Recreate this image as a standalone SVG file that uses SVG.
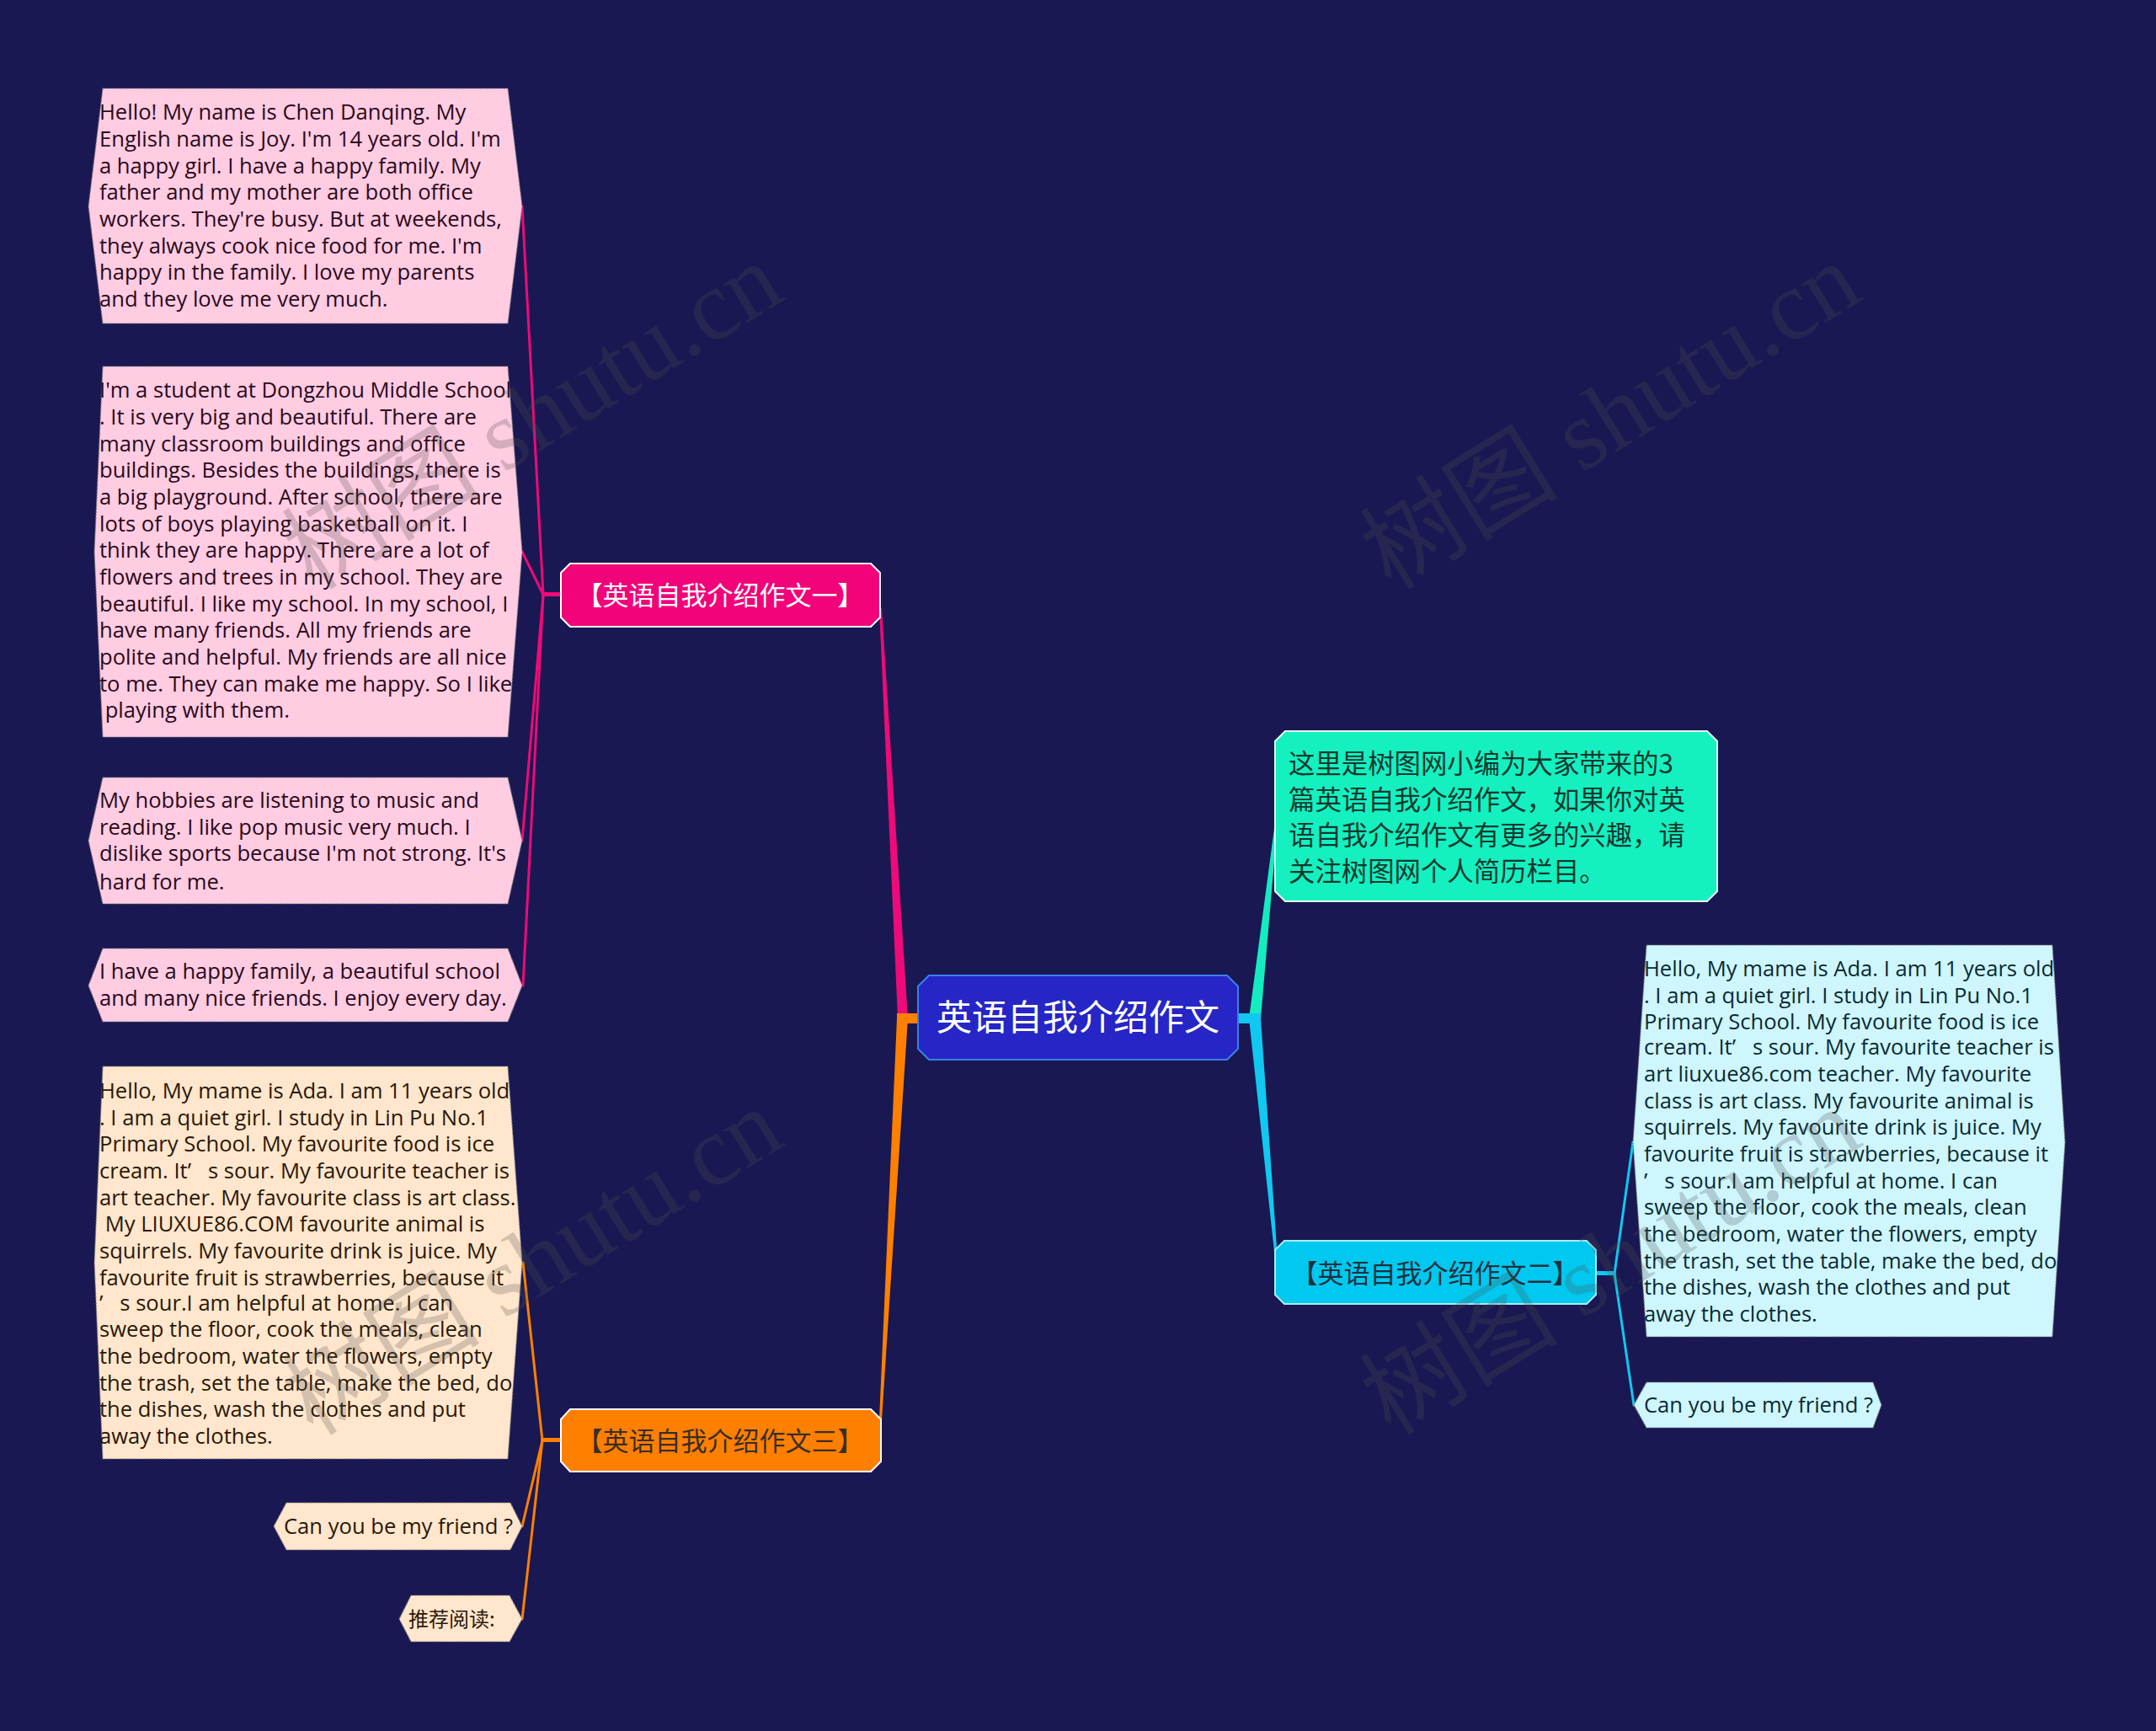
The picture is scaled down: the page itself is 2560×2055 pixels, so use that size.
<svg xmlns="http://www.w3.org/2000/svg" width="2560" height="2055" viewBox="0 0 2560 2055">
<style>
.lt{font-family:"Open Sans","Noto Sans",sans-serif;font-size:25.6px}
.pk{fill:#2a0a1a}
.pc{fill:#2a1808}
.cy{fill:#0a2a35}
.cj{font-family:"Noto Sans CJK SC","Noto Sans",sans-serif}
.leafP{fill:#ffcce2;stroke:#777;stroke-width:1.2;stroke-dasharray:2 1.5}
.leafO{fill:#ffe6cc;stroke:#777;stroke-width:1.2;stroke-dasharray:2 1.5}
.leafC{fill:#cef6fc;stroke:#777;stroke-width:1.2;stroke-dasharray:2 1.5}
.wm{font-family:"Liberation Serif","Noto Sans CJK SC",serif;font-size:118px;fill:#505050;fill-opacity:0.25}
</style>
<rect x="0" y="0" width="2560" height="2055" fill="#191852"/>

<g id="connectors">
  <polygon points="1066,1209 1078,1209 1047,722 1044,722" fill="#ee0a78"/>
  <polygon points="1065,1209 1078,1209 1047,1686 1044,1686" fill="#ff8000"/>
  <rect x="1065" y="1203" width="27" height="12" fill="#ff8000"/>
  <polygon points="1483,1209 1497,1209 1517,976 1514,976" fill="#14ecc0"/>
  <polygon points="1483,1209 1497,1209 1517,1495 1514,1495" fill="#10c8f0"/>
  <rect x="1468" y="1203" width="29" height="12" fill="#10c8f0"/>
  <rect x="643" y="703" width="25" height="5" fill="#ee0a78"/>
  <g stroke="#ee0a78" stroke-width="3" fill="none" stroke-linecap="round">
    <path d="M645,706 L620,245"/>
    <path d="M645,706 L620,655"/>
    <path d="M645,706 L620,998"/>
    <path d="M645,706 L621,1170"/>
  </g>
  <rect x="642" y="1707" width="26" height="5" fill="#ff8000"/>
  <g stroke="#ff8000" stroke-width="3" fill="none" stroke-linecap="round">
    <path d="M644,1710 L621,1499"/>
    <path d="M644,1710 L620,1812"/>
    <path d="M644,1710 L620,1922"/>
  </g>
  <rect x="1893" y="1509" width="26" height="5" fill="#10c8f0"/>
  <g stroke="#10c8f0" stroke-width="3" fill="none" stroke-linecap="round">
    <path d="M1917,1512 L1939,1356"/>
    <path d="M1917,1512 L1940,1668"/>
  </g>
</g>

<g id="root">
  <polygon points="1103,1158 1457,1158 1470,1171 1470,1245 1457,1258 1103,1258 1090,1245 1090,1171" fill="#2626c6" stroke="#3c80ea" stroke-width="2"/>
  <text class="cj" x="1280" y="1223" text-anchor="middle" font-size="42" fill="#ffffff">英语自我介绍作文</text>
</g>

<g id="branch1">
  <polygon points="677,669 1034,669 1045,680 1045,733 1034,744 677,744 666,733 666,680" fill="#f2037a" stroke="#ffffff" stroke-width="2"/>
  <text class="cj" x="855" y="718" text-anchor="middle" font-size="31" fill="#ffffff">【英语自我介绍作文一】</text>
</g>

<g id="branch3">
  <polygon points="677,1673 1034,1673 1046,1685 1046,1735 1034,1747 677,1747 666,1735 666,1685" fill="#ff7f00" stroke="#ffffff" stroke-width="2"/>
  <text class="cj" x="855" y="1722" text-anchor="middle" font-size="31" fill="#3a2e26">【英语自我介绍作文三】</text>
</g>

<g id="branch2">
  <polygon points="1525,1473 1884,1473 1895,1484 1895,1537 1884,1548 1525,1548 1514,1537 1514,1484" fill="#00c8ee" stroke="#a8ecf8" stroke-width="2"/>
  <text class="cj" x="1704" y="1523" text-anchor="middle" font-size="31" fill="#1e3040">【英语自我介绍作文二】</text>
</g>

<g id="intro">
  <polygon points="1526,868 2027,868 2039,880 2039,1058 2027,1070 1526,1070 1514,1058 1514,880" fill="#14f0c0" stroke="#e8fff8" stroke-width="2"/>
  <g class="cj" font-size="31.4" fill="#10382e">
    <text x="1530" y="918">这里是树图网小编为大家带来的3</text>
    <text x="1530" y="961">篇英语自我介绍作文，如果你对英</text>
    <text x="1530" y="1003">语自我介绍作文有更多的兴趣，请</text>
    <text x="1530" y="1046">关注树图网个人简历栏目。</text>
  </g>
</g>

<g id="leaf1">
  <polygon class="leafP" points="122,105 603,105 620,245 603,384 122,384 105,245"/>
  <g class="lt pk">
    <text x="118" y="142">Hello! My name is Chen Danqing. My</text>
    <text x="118" y="174">English name is Joy. I'm 14 years old. I'm</text>
    <text x="118" y="206">a happy girl. I have a happy family. My</text>
    <text x="118" y="237">father and my mother are both office</text>
    <text x="118" y="269">workers. They're busy. But at weekends,</text>
    <text x="118" y="301">they always cook nice food for me. I'm</text>
    <text x="118" y="332">happy in the family. I love my parents</text>
    <text x="118" y="364">and they love me very much.</text>
  </g>
</g>

<g id="leaf2">
  <polygon class="leafP" points="122,435 603,435 620,655 603,875 122,875 112,655"/>
  <g class="lt pk">
    <text x="118" y="472">I'm a student at Dongzhou Middle School</text>
    <text x="118" y="504">. It is very big and beautiful. There are</text>
    <text x="118" y="536">many classroom buildings and office</text>
    <text x="118" y="567">buildings. Besides the buildings, there is</text>
    <text x="118" y="599">a big playground. After school, there are</text>
    <text x="118" y="631">lots of boys playing basketball on it. I</text>
    <text x="118" y="662">think they are happy. There are a lot of</text>
    <text x="118" y="694">flowers and trees in my school. They are</text>
    <text x="118" y="726">beautiful. I like my school. In my school, I</text>
    <text x="118" y="757">have many friends. All my friends are</text>
    <text x="118" y="789">polite and helpful. My friends are all nice</text>
    <text x="118" y="821">to me. They can make me happy. So I like</text>
    <text x="118" y="852">&#160;playing with them.</text>
  </g>
</g>

<g id="leaf3">
  <polygon class="leafP" points="122,923 603,923 620,998 603,1073 122,1073 105,998"/>
  <g class="lt pk">
    <text x="118" y="959">My hobbies are listening to music and</text>
    <text x="118" y="991">reading. I like pop music very much. I</text>
    <text x="118" y="1022">dislike sports because I'm not strong. It's</text>
    <text x="118" y="1056">hard for me.</text>
  </g>
</g>

<g id="leaf4">
  <polygon class="leafP" points="122,1126 603,1126 620,1170 603,1213 122,1213 105,1170"/>
  <g class="lt pk">
    <text x="118" y="1162">I have a happy family, a beautiful school</text>
    <text x="118" y="1194">and many nice friends. I enjoy every day.</text>
  </g>
</g>

<g id="leaf5">
  <polygon class="leafO" points="122,1266 603,1266 620,1499 603,1732 122,1732 112,1499"/>
  <g class="lt pc">
    <text x="118" y="1304">Hello, My mame is Ada. I am 11 years old</text>
    <text x="118" y="1336">. I am a quiet girl. I study in Lin Pu No.1</text>
    <text x="118" y="1367">Primary School. My favourite food is ice</text>
    <text x="118" y="1399">cream. It’&#160;&#160;&#160;s sour. My favourite teacher is</text>
    <text x="118" y="1431">art teacher. My favourite class is art class.</text>
    <text x="118" y="1462">&#160;My LIUXUE86.COM favourite animal is</text>
    <text x="118" y="1494">squirrels. My favourite drink is juice. My</text>
    <text x="118" y="1526">favourite fruit is strawberries, because it</text>
    <text x="118" y="1556">’&#160;&#160;&#160;s sour.I am helpful at home. I can</text>
    <text x="118" y="1587">sweep the floor, cook the meals, clean</text>
    <text x="118" y="1619">the bedroom, water the flowers, empty</text>
    <text x="118" y="1651">the trash, set the table, make the bed, do</text>
    <text x="118" y="1682">the dishes, wash the clothes and put</text>
    <text x="118" y="1714">away the clothes.</text>
  </g>
</g>

<g id="leaf6">
  <polygon class="leafO" points="340,1784 606,1784 620,1812 606,1840 340,1840 325,1812"/>
  <text class="lt pc" x="337" y="1821">Can you be my friend ?</text>
</g>

<g id="leaf7">
  <polygon class="leafO" points="488,1894 605,1894 620,1922 605,1949 488,1949 474,1922"/>
  <text class="cj pc" x="485" y="1931" font-size="24">推荐阅读:</text>
</g>

<g id="leaf8">
  <polygon class="leafC" points="1955,1122 2437,1122 2452,1356 2437,1587 1955,1587 1939,1356"/>
  <g class="lt cy">
    <text x="1952" y="1159">Hello, My mame is Ada. I am 11 years old</text>
    <text x="1952" y="1191">. I am a quiet girl. I study in Lin Pu No.1</text>
    <text x="1952" y="1222">Primary School. My favourite food is ice</text>
    <text x="1952" y="1252">cream. It’&#160;&#160;&#160;s sour. My favourite teacher is</text>
    <text x="1952" y="1284">art liuxue86.com teacher. My favourite</text>
    <text x="1952" y="1316">class is art class. My favourite animal is</text>
    <text x="1952" y="1347">squirrels. My favourite drink is juice. My</text>
    <text x="1952" y="1379">favourite fruit is strawberries, because it</text>
    <text x="1952" y="1411">’&#160;&#160;&#160;s sour.I am helpful at home. I can</text>
    <text x="1952" y="1442">sweep the floor, cook the meals, clean</text>
    <text x="1952" y="1474">the bedroom, water the flowers, empty</text>
    <text x="1952" y="1506">the trash, set the table, make the bed, do</text>
    <text x="1952" y="1537">the dishes, wash the clothes and put</text>
    <text x="1952" y="1569">away the clothes.</text>
  </g>
</g>

<g id="leaf9">
  <polygon class="leafC" points="1955,1641 2224,1641 2234,1668 2224,1695 1955,1695 1940,1668"/>
  <text class="lt cy" x="1952" y="1677">Can you be my friend ?</text>
</g>

<g id="watermarks">
  <text class="wm" x="646" y="530" text-anchor="middle" transform="rotate(-31.7 646 516)">树图 shutu.cn</text>
  <text class="wm" x="1926" y="530" text-anchor="middle" transform="rotate(-31.7 1926 516)" fill-opacity="0.1">树图 shutu.cn</text>
  <text class="wm" x="646" y="1534" text-anchor="middle" transform="rotate(-31.7 646 1520)">树图 shutu.cn</text>
  <text class="wm" x="1926" y="1534" text-anchor="middle" transform="rotate(-31.7 1926 1520)">树图 shutu.cn</text>
</g>
</svg>
